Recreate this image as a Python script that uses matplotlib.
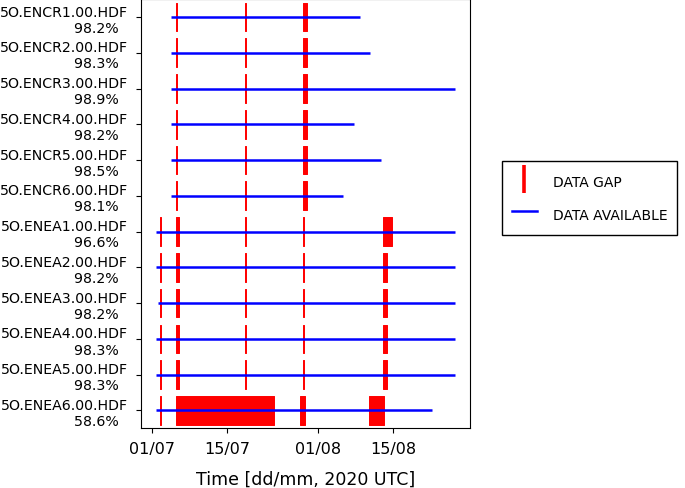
import matplotlib
matplotlib.use('Agg')
import matplotlib.pyplot as plt
import matplotlib.dates as mdates
from matplotlib.lines import Line2D
import datetime as dt

# ---- data (days since 2020-07-01 00:00 UTC) ----
files = ["5O.ENCR1.00.HDF", "5O.ENCR2.00.HDF", "5O.ENCR3.00.HDF",
         "5O.ENCR4.00.HDF", "5O.ENCR5.00.HDF", "5O.ENCR6.00.HDF",
         "5O.ENEA1.00.HDF", "5O.ENEA2.00.HDF", "5O.ENEA3.00.HDF",
         "5O.ENEA4.00.HDF", "5O.ENEA5.00.HDF", "5O.ENEA6.00.HDF"]
availability = ["98.2%", "98.3%", "98.9%", "98.2%", "98.5%", "98.1%",
                "96.6%", "98.2%", "98.2%", "98.3%", "98.3%", "58.6%"]
avail_start = [3.5, 3.5, 3.5, 3.5, 3.5, 3.5,
               0.75, 0.75, 1.1, 0.75, 0.75, 0.75]
avail_end = [38.7, 40.7, 56.5, 37.7, 42.7, 35.7,
             56.5, 56.5, 56.5, 56.5, 56.5, 52.3]
gaps_encr = [(4.55, 4.7), (17.3, 17.45), (28.1, 28.9)]
gaps_enea1 = [(1.5, 1.62), (4.5, 5.1), (17.3, 17.45), (28.15, 28.3), (43.0, 44.8)]
gaps_enea = [(1.5, 1.62), (4.5, 5.1), (17.3, 17.45), (28.15, 28.3), (43.0, 43.8)]
gaps_enea6 = [(1.5, 1.62), (4.5, 22.8), (27.6, 28.5), (40.5, 43.3)]
gaps = [gaps_encr] * 6 + [gaps_enea1] + [gaps_enea] * 4 + [gaps_enea6]

base = mdates.date2num(dt.datetime(2020, 7, 1))

fig = plt.figure(figsize=(6.85, 4.89), dpi=100)
ax = fig.add_axes([0.206, 0.123, 0.480, 0.876])

for i in range(len(files)):
    for s, e in gaps[i]:
        ax.broken_barh([(base + s, e - s)], (i - 0.4, 0.8),
                       facecolor='red', edgecolor='red', linewidth=0.7, zorder=2)
    ax.hlines(i, base + avail_start[i], base + avail_end[i],
              color='blue', linewidth=1.8, zorder=3)

ax.set_ylim(len(files) - 1 + 0.49, -0.49)
ax.set_yticks(range(len(files)))
ax.set_yticklabels([f + "\n" + a + "  " for f, a in zip(files, availability)],
                   fontsize=10.2, multialignment='right')
ax.tick_params(axis='y', pad=6)
ax.xaxis.set_major_locator(mdates.DayLocator(bymonthday=[1, 15]))
ax.xaxis.set_major_formatter(mdates.DateFormatter('%d/%m'))
ax.tick_params(axis='x', labelsize=11.5, pad=6)
ax.set_xlabel("Time [dd/mm, 2020 UTC]", fontsize=12.5, labelpad=9.5)

handles = [Line2D([], [], color='red', marker='|', linestyle='None',
                  markersize=20, markeredgewidth=2.6),
           Line2D([], [], color='blue', linewidth=1.8)]
fig.legend(handles, ["DATA GAP", "DATA AVAILABLE"], loc='center left',
           bbox_to_anchor=(502 / 685, 1 - 199 / 489), bbox_transform=fig.transFigure,
           fancybox=False, edgecolor='black', framealpha=1, fontsize=10,
           handleheight=2, handlelength=1.8, handletextpad=1.15,
           labelspacing=0.8, borderpad=0.7, borderaxespad=0)

fig.savefig("out.png", dpi=100)
